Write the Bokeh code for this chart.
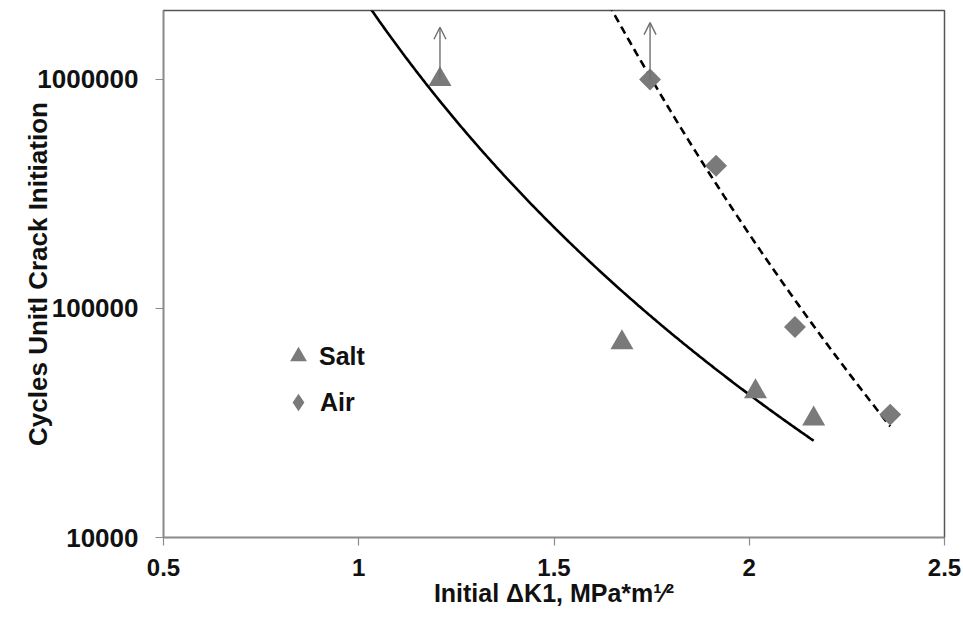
import numpy as np
from bokeh.plotting import figure
from bokeh.models import (Range1d, FixedTicker, Legend, LegendItem,
                          Arrow, OpenHead)
from bokeh.embed import file_html
from bokeh.resources import INLINE

# ---------------- data ----------------
salt_dk = [1.208, 1.674, 2.016, 2.165]
salt_cycles = [1000000, 71000, 43400, 33000]
air_dk = [1.746, 1.915, 2.117, 2.361]
air_cycles = [1000000, 420000, 83000, 34400]

# run-out arrows (no initiation observed): x, start, tip
runout_dk = [1.208, 1.746]
runout_start = [1000000, 1000000]
runout_tip = [1690000, 1770000]

x_ticks = [0.5, 1.0, 1.5, 2.0, 2.5]
x_tick_labels = ["0.5", "1", "1.5", "2", "2.5"]
y_ticks = [10000, 100000, 1000000]
y_tick_labels = ["10000", "100000", "1000000"]

series_names = ["Salt", "Air"]
x_title = "Initial \u0394K1, MPa*m\u00b9\u2044\u00b2"
y_title = "Cycles Unitl Crack Initiation"

FONT = "Liberation Sans"
GREY = "#7a7a7a"
TXT = "#111111"

p = figure(width=963, height=618, y_axis_type="log",
           x_range=Range1d(0.5, 2.5), y_range=Range1d(10000, 2000000),
           output_backend="svg", toolbar_location=None,
           min_border_left=163, min_border_right=19,
           min_border_top=10, min_border_bottom=81)
p.background_fill_color = "white"
p.border_fill_color = "white"
p.outline_line_color = "#555555"
p.outline_line_width = 1.5
p.xgrid.visible = False
p.ygrid.visible = False

# axes
p.xaxis.ticker = FixedTicker(ticks=x_ticks)
p.xaxis.major_label_overrides = {t: l for t, l in zip(x_ticks, x_tick_labels)}
p.yaxis.ticker = FixedTicker(ticks=y_ticks, minor_ticks=[])
p.yaxis.major_label_overrides = {t: l for t, l in zip(y_ticks, y_tick_labels)}
for ax in (p.xaxis, p.yaxis):
    ax.axis_line_color = "#8c8c8c"
    ax.axis_line_width = 1.5
    ax.major_tick_line_color = "#8c8c8c"
    ax.major_tick_line_width = 1.2
    ax.major_tick_in = 0
    ax.major_tick_out = 8
    ax.minor_tick_line_color = None
    ax.major_label_text_font = FONT
    ax.major_label_text_font_style = "bold"
    ax.major_label_text_color = TXT
    ax.axis_label_text_font = FONT
    ax.axis_label_text_font_style = "bold"
    ax.axis_label_text_color = TXT
p.xaxis.major_label_text_font_size = "24px"
p.yaxis.major_label_text_font_size = "26px"
p.xaxis.axis_label_text_font_size = "25px"
p.yaxis.axis_label_text_font_size = "26px"
p.xaxis.major_label_standoff = 13
p.yaxis.major_label_standoff = 17
p.xaxis.axis_label = x_title
p.xaxis.axis_label_standoff = 0
p.yaxis.axis_label = y_title
p.yaxis.axis_label_standoff = -19

# power-law trendlines (least squares in log-log space, like Excel)
def power_fit(xs, ys):
    b, a = np.polyfit(np.log10(xs), np.log10(ys), 1)
    xx = np.linspace(0.9, max(xs), 300)
    return xx, 10 ** (a + b * np.log10(xx))

sx, sy = power_fit(salt_dk, salt_cycles)
ax_, ay_ = power_fit(air_dk, air_cycles)
p.line(sx, sy, line_color="black", line_width=2.6)
p.line(ax_, ay_, line_color="black", line_width=2.6, line_dash="8 5")

# arrows for run-outs
for xv, y0, y1 in zip(runout_dk, runout_start, runout_tip):
    p.add_layout(Arrow(x_start=xv, y_start=y0, x_end=xv, y_end=y1,
                       line_color="#6f6f6f", line_width=1.4,
                       end=OpenHead(size=12, line_color="#6f6f6f", line_width=1.4)))

r_salt = p.scatter(salt_dk, salt_cycles, marker="triangle", size=23,
                   fill_color=GREY, line_color=None)
r_air = p.scatter(air_dk, air_cycles, marker="square", size=15.5, angle=np.pi / 4,
                  fill_color=GREY, line_color=None)
# legend key for Air (legend keys are never rotated, so use the diamond marker);
# it holds one NaN point so nothing is drawn inside the plot
r_air_key = p.scatter([np.nan], [np.nan], marker="diamond", size=17,
                      fill_color=GREY, line_color=None)

common = dict(padding=0, margin=0, spacing=0, border_line_color=None,
              background_fill_alpha=0, label_text_font=FONT,
              label_text_font_style="bold", label_text_font_size="25px",
              label_text_color=TXT)
leg_salt = Legend(items=[LegendItem(label=series_names[0], renderers=[r_salt])],
                  location=(114, 160), glyph_width=42, glyph_height=42,
                  label_standoff=-12, **common)
leg_air = Legend(items=[LegendItem(label=series_names[1], renderers=[r_air_key])],
                 location=(113, 113), glyph_width=44, glyph_height=44,
                 label_standoff=-13, **common)
p.add_layout(leg_salt)
p.add_layout(leg_air)

open("out.html", "w").write(file_html(p, INLINE))
